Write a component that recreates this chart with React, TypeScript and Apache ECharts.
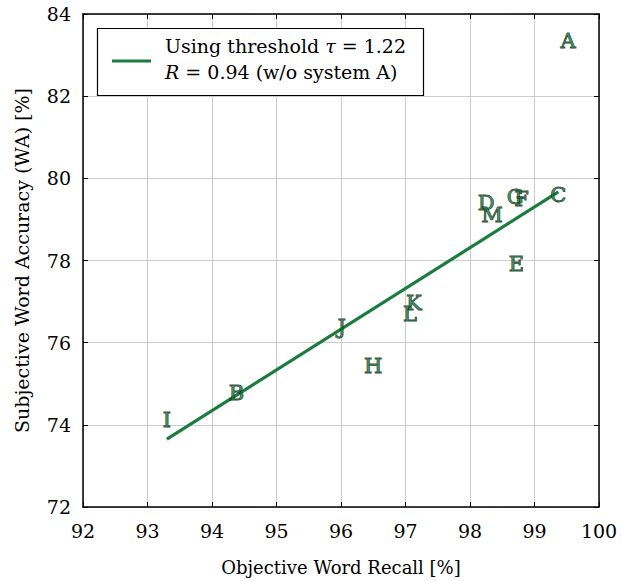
import React, { useEffect, useRef } from "react";
import * as echarts from "echarts";

const systems = ["A", "B", "C", "D", "E", "F", "G", "H", "I", "J", "K", "L", "M"];
const recall = [99.52, 94.38, 99.37, 98.25, 98.72, 98.8, 98.7, 96.5, 93.3, 96.01, 97.13, 97.07, 98.34];
const accuracy = [83.42, 74.85, 79.67, 79.47, 78.0, 79.57, 79.63, 75.51, 74.2, 76.45, 77.04, 76.78, 79.19];
const fitX = [93.3, 99.37];
const fitY = [73.65, 79.67];
const xTicks = { min: 92, max: 100, step: 1 };
const yTicks = { min: 72, max: 84, step: 2 };

const GREEN = "#1b7c3e";
const FONT = "DejaVu Serif";

export default function App() {
  const ref = useRef<HTMLDivElement>(null);
  useEffect(() => {
    const chart = echarts.init(ref.current!, null, { renderer: "svg" });
    const axisCommon = {
      axisLine: { show: true, onZero: false, lineStyle: { color: "#000", width: 1.5 } },
      axisTick: { show: true, inside: true, length: 5, lineStyle: { color: "#000", width: 1 } },
    };
    const label = { fontFamily: FONT, fontSize: 19, color: "#000" };
    chart.setOption({
      animation: false,
      textStyle: { fontFamily: FONT },
      grid: { left: 83, right: 30, top: 14, bottom: 65, containLabel: false },
      xAxis: [
        {
          type: "value", min: xTicks.min, max: xTicks.max, interval: xTicks.step,
          position: "bottom",
          ...axisCommon,
          axisLabel: { ...label, margin: 14 },
          splitLine: { show: true, lineStyle: { color: "#cccccc", width: 1 } },
          name: "Objective Word Recall [%]", nameLocation: "middle", nameGap: 51,
          nameTextStyle: { fontFamily: FONT, fontSize: 18, color: "#000" },
        },
        {
          type: "value", min: xTicks.min, max: xTicks.max, interval: xTicks.step,
          position: "top", ...axisCommon, axisLabel: { show: false }, splitLine: { show: false },
        },
      ],
      yAxis: [
        {
          type: "value", min: yTicks.min, max: yTicks.max, interval: yTicks.step,
          position: "left",
          ...axisCommon,
          axisLabel: { ...label, margin: 12 },
          splitLine: { show: true, lineStyle: { color: "#cccccc", width: 1 } },
          name: "Subjective Word Accuracy (WA) [%]", nameLocation: "middle", nameGap: 52,
          nameTextStyle: { fontFamily: FONT, fontSize: 19, color: "#000" },
        },
        {
          type: "value", min: yTicks.min, max: yTicks.max, interval: yTicks.step,
          position: "right", ...axisCommon, axisLabel: { show: false }, splitLine: { show: false },
        },
      ],
      series: [
        {
          type: "line",
          data: fitX.map((x, i) => [x, fitY[i]]),
          symbol: "none",
          lineStyle: { color: GREEN, width: 3.2 },
          z: 2,
        },
        {
          type: "scatter",
          data: systems.map((s, i) => ({ name: s, value: [recall[i], accuracy[i]] })),
          symbolSize: 2,
          itemStyle: { color: "rgba(0,0,0,0)" },
          label: {
            show: true,
            position: "inside",
            offset: [0, 3],
            formatter: (p: any) => p.name,
            fontFamily: FONT,
            fontSize: 21,
            color: GREEN,
            textBorderColor: "#000",
            textBorderWidth: 0.9,
          },
          z: 5,
        },
      ],
      graphic: [
        {
          type: "rect",
          shape: { x: 97.5, y: 28.5, width: 326, height: 67 },
          style: { fill: "#fff", stroke: "#000", lineWidth: 1.2 },
          z: 10,
        },
        {
          type: "line",
          shape: { x1: 112, y1: 61, x2: 151, y2: 61 },
          style: { stroke: GREEN, lineWidth: 3.2 },
          z: 11,
        },
        {
          type: "text",
          x: 165, y: 46,
          style: {
            text: "{a|Using threshold }{i|τ}{a| = 1.22}",
            verticalAlign: "middle",
            rich: {
              a: { fontFamily: FONT, fontSize: 19, fill: "#000" },
              i: { fontFamily: FONT, fontSize: 19, fontStyle: "italic", fill: "#000" },
            },
          },
          z: 11,
        },
        {
          type: "text",
          x: 165, y: 72,
          style: {
            text: "{i|R}{a| = 0.94 (w/o system A)}",
            verticalAlign: "middle",
            rich: {
              a: { fontFamily: FONT, fontSize: 19, fill: "#000" },
              i: { fontFamily: FONT, fontSize: 19, fontStyle: "italic", fill: "#000" },
            },
          },
          z: 11,
        },
      ],
    });
    return () => chart.dispose();
  }, []);
  return (
    <div
      ref={ref}
      style={{ position: "fixed", left: 0, top: 0, width: 629, height: 581, background: "#fff" }}
    />
  );
}
